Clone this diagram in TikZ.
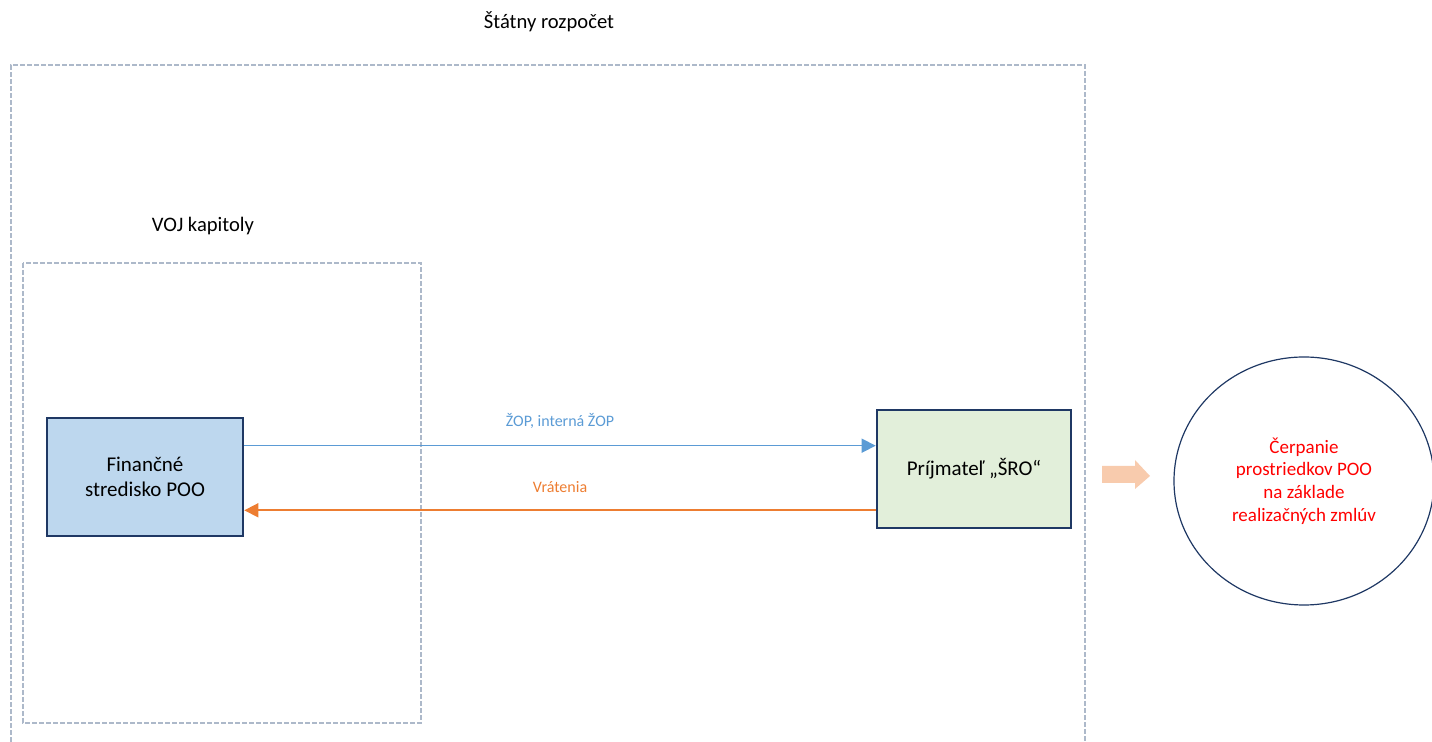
\documentclass[tikz,border=0pt]{standalone}
\usepackage{fontspec}
\setmainfont{Carlito}
\usetikzlibrary{arrows.meta,shapes.geometric}

\definecolor{frameg}{HTML}{ADB9CA}
\definecolor{navy}{HTML}{1F3864}
\definecolor{boxblue}{HTML}{BDD7EE}
\definecolor{boxgreen}{HTML}{E2EFDA}
\definecolor{linkblue}{HTML}{5B9BD5}
\definecolor{linkorange}{HTML}{ED7D31}
\definecolor{peach}{HTML}{F8CBAD}

\begin{document}
\begin{tikzpicture}[x=0.5pt,y=-0.5pt,
    frame/.style={frameg,line width=0.6pt,dash pattern=on 2.5pt off 1pt},
    unit/.style={draw=navy,line width=1.3pt,minimum height=59pt,align=center,font=\fontsize{10.5}{12.5}\selectfont},
    link/.style={line width=0.8pt,-{Triangle[length=7pt,width=7pt]}}]
    \useasboundingbox (0,0) rectangle (1432,742);

    % dashed frames
    \draw[frame] (11,742) -- (11,65) -- (1085,65) -- (1085,742);
    \draw[frame] (23,263) rectangle (421,723);
    \node[font=\fontsize{10.3}{12}\selectfont] (sr) at (549,22) {Štátny rozpočet};
    \node[font=\fontsize{10.3}{12}\selectfont] (voj) at (203,226) {VOJ kapitoly};

    \node[unit,fill=boxblue,minimum width=98pt] (fin) at (145,477) {Finančné\\stredisko POO};
    \node[unit,fill=boxgreen,minimum width=97pt] (prij) at (974,469) {Príjmateľ „ŠRO“};
    \node[draw=navy,line width=0.6pt,ellipse,minimum width=130pt,minimum height=124pt,
          text=red,align=center,font=\fontsize{9.5}{11.3}\selectfont] (cerp) at (1304,481)
          {Čerpanie\\prostriedkov POO\\na základe\\realizačných zmlúv};

    \draw[link,linkblue] ([yshift=-14.5pt]fin.north east) -- ([yshift=-18.5pt]prij.north west)
        node[midway,above=5pt,font=\fontsize{8}{9}\selectfont]{ŽOP, interná ŽOP};
    \draw[link,linkorange] ([yshift=9.5pt]prij.south west) -- ([yshift=13.5pt]fin.south east)
        node[midway,above=5pt,font=\fontsize{8}{9}\selectfont]{Vrátenia};

    % block arrow
    \fill[peach] (1102,466) -- (1135,466) -- (1135,460) -- (1150,476) -- (1135,489)
        -- (1135,483) -- (1102,483) -- cycle;
\end{tikzpicture}
\end{document}
